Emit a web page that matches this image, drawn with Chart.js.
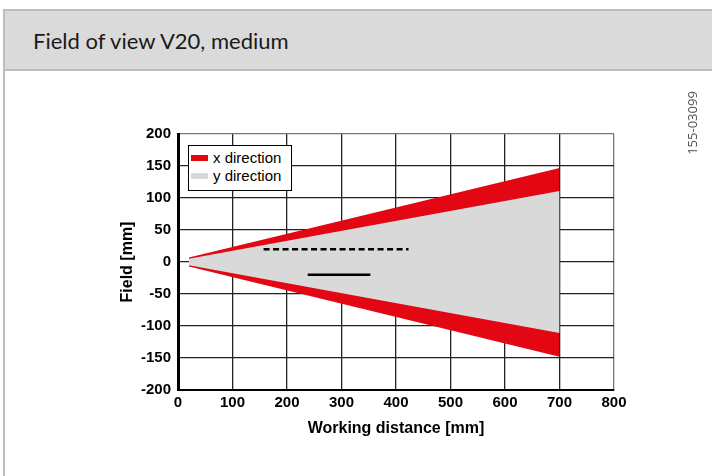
<!DOCTYPE html>
<html>
<head>
<meta charset="utf-8">
<script src="https://cdn.jsdelivr.net/npm/chart.js@4.4.1/dist/chart.umd.min.js"></script>
<style>
  body { margin: 0; background: #fff; width: 712px; height: 476px; overflow: hidden; position: relative; }
  .frame { position: absolute; left: 3px; top: 9px; width: 720px; height: 480px; border: 2px solid #bdbdbd; box-sizing: border-box; }
  .head { position: absolute; left: 5px; top: 11px; width: 712px; height: 58px; background: #dadada; border-bottom: 2px solid #bdbdbd; }
  .head span { position: absolute; left: 28px; top: 16px; font-family: Lato, "Open Sans", sans-serif; font-size: 22px; color: #1a1a1a; }
  canvas { position: absolute; left: 0; top: 0; }
  .legend { position: absolute; left: 188px; top: 145px; width: 102px; height: 44px; border: 1px solid #000; background: #fff; font-family: "Liberation Sans", Arial, sans-serif; font-size: 15px; color: #000; }
  .legend div { position: absolute; left: 24px; white-space: nowrap; line-height: 18px; }
  .legend i { position: absolute; left: -22px; top: 6px; width: 17px; height: 6px; }
  .code { position: absolute; left: 652px; top: 114px; width: 80px; text-align: center; transform: rotate(-90deg); font-family: "Open Sans", sans-serif; font-size: 13px; color: #555; }
</style>
</head>
<body>
<div class="frame"></div>
<div class="head"><span>Field of view V20, medium</span></div>
<canvas id="fov" width="712" height="476"></canvas>
<div class="legend">
  <div style="top:3px"><i style="background:#e30613"></i>x direction</div>
  <div style="top:21px"><i style="background:#d9d9d9"></i>y direction</div>
</div>
<div class="code">155-03099</div>
<script>
// working distance where the field starts and ends
var distance = [20, 700];
// field in x direction (red), upper and lower edge
var xDirUpper = [7, 147];
var xDirLower = [-7, -148];
// field in y direction (gray)
var yDirUpper = [5, 111];
var yDirLower = [-5, -111];
// dashed and solid marker lines
var dashedX = [157, 423];
var dashedY = [20, 20];
var solidX = [238, 353];
var solidY = [-20, -20];
// axes
var xTicks = [0, 100, 200, 300, 400, 500, 600, 700, 800];
var yTicks = [-200, -150, -100, -50, 0, 50, 100, 150, 200];

function pts(xs, ys) {
  return xs.map(function (x, i) { return {x: x, y: ys[i]}; });
}

var tickFont = {family: 'Liberation Sans, Arial, sans-serif', size: 15, weight: 'bold'};
var titleFont = {family: 'Liberation Sans, Arial, sans-serif', size: 16, weight: 'bold'};

const config = {
  type: 'scatter',
  data: {
    datasets: [
      { label: 'x direction', data: pts(distance, xDirUpper), showLine: true, pointRadius: 0,
        borderColor: 'transparent', backgroundColor: '#e30613', fill: '+1', order: 3 },
      { label: 'x lower', data: pts(distance, xDirLower), showLine: true, pointRadius: 0,
        borderColor: 'transparent', fill: false, order: 3 },
      { label: 'y direction', data: pts(distance, yDirUpper), showLine: true, pointRadius: 0,
        borderColor: 'transparent', backgroundColor: '#d9d9d9', fill: '+1', order: 2 },
      { label: 'y lower', data: pts(distance, yDirLower), showLine: true, pointRadius: 0,
        borderColor: 'transparent', fill: false, order: 2 },
      { label: 'dashed', data: pts(dashedX, dashedY), showLine: true, pointRadius: 0,
        borderColor: '#000', borderWidth: 2.5, borderDash: [6, 3.5], fill: false, order: 1 },
      { label: 'solid', data: pts(solidX, solidY), showLine: true, pointRadius: 0,
        borderColor: '#000', borderWidth: 2.5, fill: false, order: 1 }
    ]
  },
  options: {
    responsive: false,
    animation: false,
    devicePixelRatio: 1,
    layout: { padding: {left: 110, right: 98, top: 134, bottom: 30} },
    plugins: { legend: {display: false}, tooltip: {enabled: false} },
    scales: {
      x: {
        type: 'linear', min: 0, max: 800,
        afterBuildTicks: function (s) { s.ticks = xTicks.map(function (v) { return {value: v}; }); },
        afterFit: function (s) { s.height = 56; },
        ticks: { color: '#000', font: tickFont, padding: 4, maxRotation: 0 },
        grid: { drawTicks: false, lineWidth: 1.3,
          color: function (c) { return c.tick && c.tick.value === 800 ? '#777' : '#222'; } },
        border: { color: '#000', width: 2 },
        title: { display: true, text: 'Working distance [mm]', color: '#000', font: titleFont,
          padding: {top: 0, bottom: 8} }
      },
      y: {
        type: 'linear', min: -200, max: 200,
        afterBuildTicks: function (s) { s.ticks = yTicks.map(function (v) { return {value: v}; }); },
        afterFit: function (s) { s.width = 68; },
        ticks: { color: '#000', font: tickFont, padding: 7 },
        grid: { drawTicks: false, lineWidth: 1.3,
          color: function (c) { return c.tick && c.tick.value === 200 ? '#777' : '#222'; } },
        border: { color: '#000', width: 3 },
        title: { display: true, text: 'Field [mm]', color: '#000', font: titleFont,
          padding: {top: 8, bottom: 0} }
      }
    }
  }
};

var fovChart = new Chart(document.getElementById('fov'), config);
</script>
</body>
</html>
